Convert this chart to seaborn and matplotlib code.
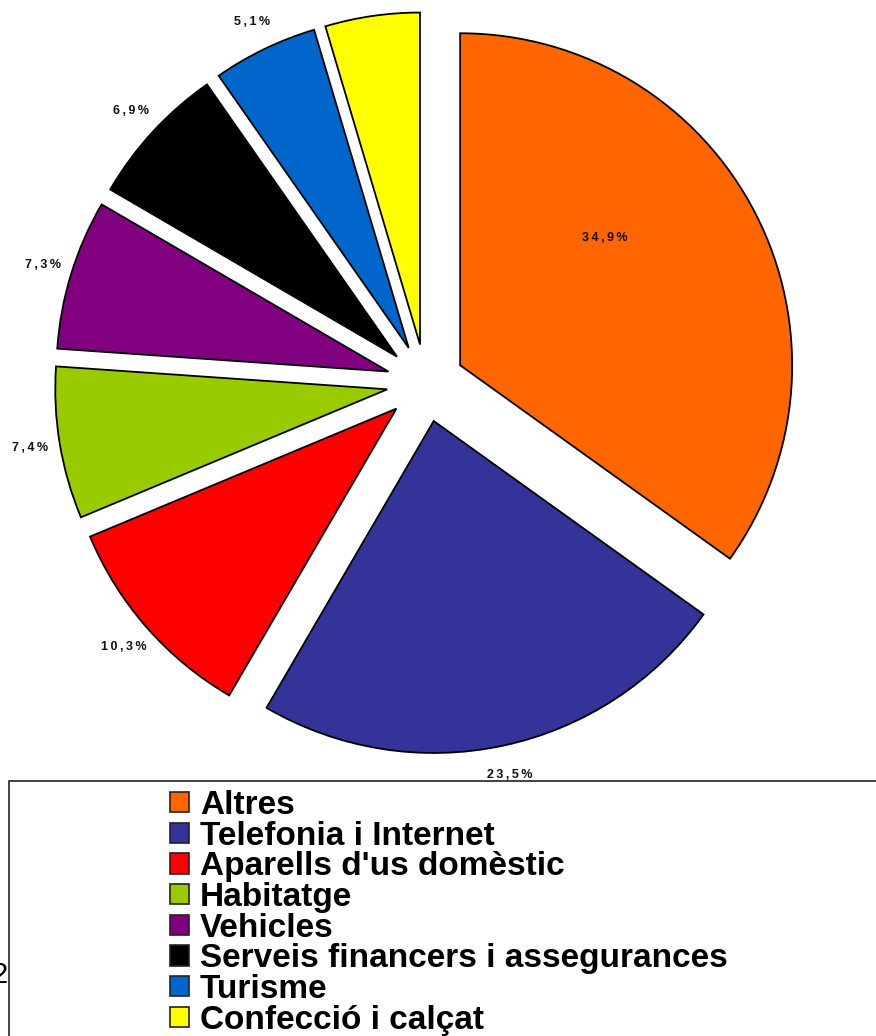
import numpy as np
import matplotlib
matplotlib.use("Agg")
import matplotlib.pyplot as plt
from matplotlib.patches import Rectangle
import seaborn as sns

# data
categories = ["Altres", "Telefonia i Internet", "Aparells d'us domèstic", "Habitatge",
              "Vehicles", "Serveis financers i assegurances", "Turisme", "Confecció i calçat"]
shares = [34.9, 23.5, 10.3, 7.4, 7.3, 6.9, 5.1, 4.6]
share_labels = ["34,9%", "23,5%", "10,3%", "7,4%", "7,3%", "6,9%", "5,1%", ""]
colors = ["#FF6600", "#333399", "#FF0000", "#99CC00", "#800080", "#000000", "#0066CC", "#FFFF00"]

sns.set_theme(style="white")
plt.rcParams['font.family'] = ['Liberation Sans', 'DejaVu Sans']
plt.rcParams['text.color'] = 'black'

W, H = 876, 1036
fig = plt.figure(figsize=(W / 100, H / 100), dpi=100)
fig.patch.set_facecolor("white")

# spaced-out digits like the original
spaced = ["\u2009".join(s) for s in share_labels]

# pie axes: top part of the figure
ax = fig.add_axes([0, (H - 770) / H, 1, 770 / H])
wedges, texts = ax.pie(shares, labels=spaced, colors=colors, startangle=90,
                       counterclock=False, explode=[0.117] * len(shares),
                       labeldistance=1.09,
                       wedgeprops=dict(edgecolor="black", linewidth=1.3),
                       textprops=dict(fontsize=9, fontweight="bold", color="#111111"))
for t in texts:
    t.set_ha("center")
    t.set_va("center")

# the big slice has its label inside
w0 = wedges[0]
ang = np.deg2rad((w0.theta1 + w0.theta2) / 2 + 14)
cx, cy = w0.center
texts[0].set_position((cx + 0.58 * np.cos(ang), cy + 0.58 * np.sin(ang)))

ax.set_xlim(-425.6 / 332, (W - 425.6) / 332)
ax.set_ylim(-(770 - 383) / 332, 383 / 332)
ax.set_aspect("auto")
ax.axis("off")

# legend box
fig.patches.append(Rectangle((9 / W, -0.02), 1.1, (H - 781) / H + 0.02,
                             transform=fig.transFigure, fill=False,
                             edgecolor="#222222", linewidth=1.2, clip_on=False))

handles = [Rectangle((0, 0), 1, 1, facecolor=c, edgecolor="#222222", linewidth=1.2)
           for c in colors]
leg = fig.legend(handles, categories, loc="upper left",
                 bbox_to_anchor=(170 / W, (H - 790) / H), frameon=False,
                 prop=dict(size=24, weight="bold"), handlelength=0.57, handleheight=0.57,
                 handletextpad=0.33, labelspacing=-0.01, borderpad=0, borderaxespad=0)
for t in leg.get_texts():
    t.set_color("black")

fig.text(8 / W, (H - 983) / H, "2", ha="right", va="baseline", fontsize=21, color="black")

fig.savefig("out.png", dpi=100, facecolor="white")
